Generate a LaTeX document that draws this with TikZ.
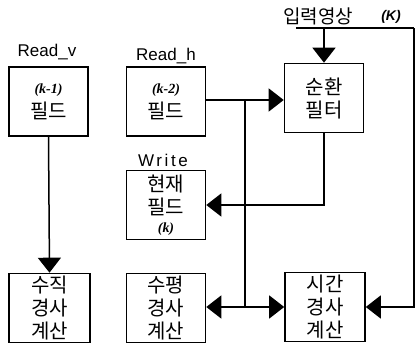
\documentclass[tikz,border=0pt]{standalone}
\usepackage{fontspec}
\setmainfont{Noto Sans CJK KR}
\newfontfamily\latin{Liberation Sans}
\newfontfamily\latinserif{Liberation Serif}
\usetikzlibrary{arrows.meta,calc}

\newcommand{\fieldidx}[1]{{\latinserif\bfseries\itshape\fontsize{14}{16}\selectfont #1}}

\begin{document}
\begin{tikzpicture}[x=1pt,y=-1pt,
  box/.style={draw,line width=1.6pt,minimum width=79pt,minimum height=69pt,inner sep=0pt,align=center,font=\fontsize{20}{23}\selectfont},
  lab/.style={font=\latin\fontsize{17}{20}\selectfont},
  con/.style={line width=1.5pt},
  tip/.style={con,-{Triangle[length=15pt,width=23pt]}}]
\useasboundingbox (0,0) rectangle (416,346);

% blocks
\node[box] (rv) at (48.5,101.5) {\fieldidx{(k-1)}\\[2pt]필드};
\node[box] (rh) at (166,101.5) {\fieldidx{(k-2)}\\[2pt]필드};
\node[box] (cf) at (324,98) {순환\\필터};
\node[box] (wr) at (166,205) {현재\\필드\\[-5pt]\fieldidx{(k)}};
\node[box,minimum width=81pt] (vg) at (49.5,308) {수직\\경사\\계산};
\node[box] (hg) at (166,308) {수평\\경사\\계산};
\node[box,minimum width=80pt] (tg) at (325,307) {시간\\경사\\계산};

% labels
\node[lab] (rvlab) at (47,52) {Read\_v};
\node[lab] (rhlab) at (166,56) {Read\_h};
\node[lab] (wrlab) at (163,160) {\addfontfeature{LetterSpace=15}Write};
\node (inlab) at (318,16) {\fontsize{19}{21}\selectfont 입력영상};
\node (klab) at (391,17) {\latin\bfseries\itshape\fontsize{14}{16}\selectfont (K)};

\coordinate (inl) at (296,28);
\coordinate (inr) at (414,28);
\coordinate (j1) at (245,100);
\coordinate (j2) at (245,307);

% connectors
\draw[tip] (rv.south) -- (vg.north);
\draw[con] (inl) -- (inr);
\draw[tip] (inr) |- (tg.east);
\draw[tip] (cf.north |- inl) -- (cf.north);
\draw[tip] (rh.east |- j1) -- (cf.west |- j1);
\draw[con] (j1) -- (j2);
\draw[tip] (j2) -- (hg.east |- j2);
\draw[tip] (j2) -- (tg.west |- j2);
\draw[tip] (cf.south) |- (wr.east);
\end{tikzpicture}
\end{document}
